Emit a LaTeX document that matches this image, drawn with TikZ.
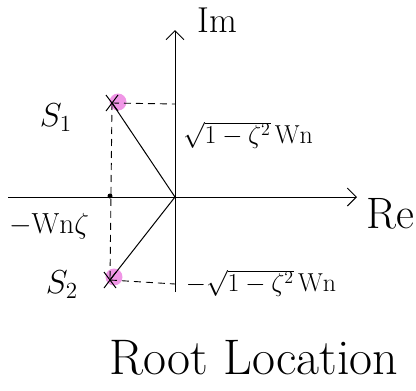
\documentclass[tikz,border=0pt]{standalone}
\usetikzlibrary{arrows.meta}
\definecolor{rootpink}{RGB}{240,150,230}
\tikzset{
  axis/.style={line width=1pt,-{Straight Barb[length=9pt,width=18pt,line width=1pt]}},
  guide/.style={line width=0.9pt,dashed,dash pattern=on 7pt off 5pt},
  ray/.style={line width=1pt},
  lbl/.style={inner sep=0pt,anchor=center},
  mlbl/.style={inner sep=0pt,anchor=center,font=\fontsize{20}{22}\selectfont},
  pole/.style={circle,fill=rootpink,minimum size=17pt,inner sep=0pt}
}
\begin{document}
\begin{tikzpicture}[x=1pt,y=-1pt]
\useasboundingbox (0,0) rectangle (416,391);
% pink markers
\node[pole] (p1) at (118,102) {};
\node[pole] (p2) at (114,277) {};
% points
\coordinate (O) at (175,197);
\coordinate (S1) at (112,103);
\coordinate (S2) at (110,280);
\coordinate (I1) at (175,104);
\coordinate (I2) at (175,284);
\coordinate (R) at (110,196);
% axes
\coordinate (xl) at (8,197);
\coordinate (xr) at (357,197);
\coordinate (yb) at (175,292);
\coordinate (yt) at (175,30);
\draw[axis] (xl) -- (xr);
\draw[axis] (yb) -- (yt);
% guides
\draw[guide] (S1) -- (I1);
\draw[guide] (S2) -- (I2);
\draw[guide] (S1) -- (S2);
\fill (R) circle (2.5);
% rays
\draw[ray] (O) -- (S1);
\draw[ray] (O) -- (S2);
% crosses
\draw[ray] (S1) ++(-6,-8) -- ++(12,16) (S1) ++(6,-8) -- ++(-12,16);
\draw[ray] (S2) ++(-6,-8) -- ++(12,16) (S2) ++(6,-8) -- ++(-12,16);
% labels
\node[lbl,font=\fontsize{36}{38}\selectfont] (im) at (217,20) {Im};
\node[lbl,font=\fontsize{44}{46}\selectfont] (re) at (390,214) {Re};
\node[mlbl,scale=1.6] (s1) at (56,118) {$S_1$};
\node[mlbl,scale=1.6] (s2) at (62,285) {$S_2$};
\node[mlbl,scale=1.4] (wz) at (49,226) {$-\mathrm{Wn}\zeta$};
\node[mlbl,scale=1.25] (up) at (248,135) {$\sqrt{1-\zeta^2}\,\mathrm{Wn}$};
\node[mlbl,scale=1.25] (dn) at (261,283) {$-\sqrt{1-\zeta^2}\,\mathrm{Wn}$};
\node[lbl,font=\fontsize{50}{52}\selectfont] (title) at (254,358) {Root Location};
\end{tikzpicture}
\end{document}
